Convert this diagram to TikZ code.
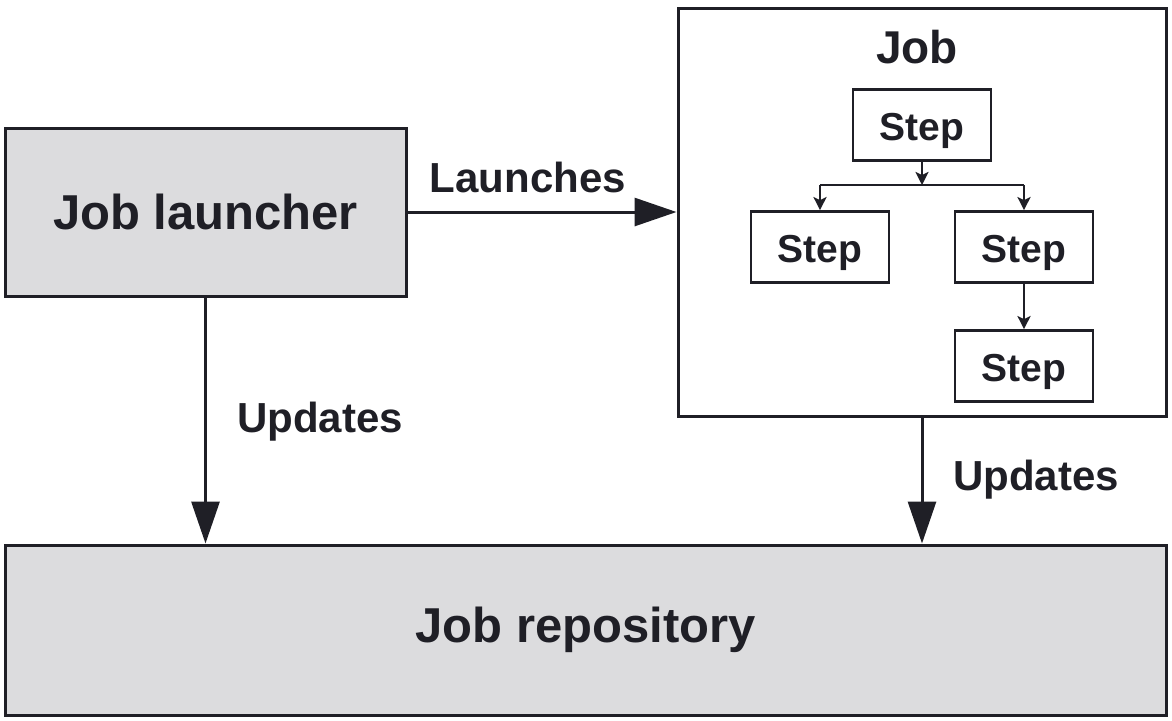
\documentclass[tikz,border=0pt]{standalone}
\usepackage{fontspec}
\setmainfont{Liberation Sans}
\usetikzlibrary{arrows.meta}
\definecolor{boxgray}{HTML}{DCDCDE}
\definecolor{ink}{HTML}{1F1F26}
\begin{document}
\begin{tikzpicture}[x=0.5pt,y=-0.5pt,
  bigbox/.style={draw=ink,line width=1.5pt,fill=boxgray,inner sep=0pt,text=ink,font=\bfseries\fontsize{24.5}{28}\selectfont},
  jobbox/.style={draw=ink,line width=1.5pt,fill=white,inner sep=0pt},
  stepbox/.style={draw=ink,line width=1.4pt,fill=white,inner sep=0pt,minimum width=69pt,minimum height=35.5pt,text height=15pt,text depth=-6pt,text=ink,font=\bfseries\fontsize{19.5}{22}\selectfont},
  lbl/.style={text=ink,font=\bfseries\fontsize{21}{24}\selectfont,inner sep=0pt},
  bigarrow/.style={draw=ink,line width=1.5pt,-{Triangle[length=21pt,width=14pt]}},
  smallarrow/.style={draw=ink,line width=1.3pt,-{Stealth[length=6.5pt,width=6.5pt,inset=1.5pt]}},
  plainline/.style={draw=ink,line width=1.3pt}
]
\useasboundingbox (0,0) rectangle (1172,720);
\fill[white] (0,0) rectangle (1172,720);

\node[bigbox,minimum width=200.5pt,minimum height=84pt] (jl) at (205.5,212) {Job launcher};
\node[jobbox,minimum width=244pt,minimum height=204pt] (job) at (922,212) {};
\node[lbl,font=\bfseries\fontsize{23}{26}\selectfont] (jobt) at (917,47) {Job};
\node[bigbox,minimum width=580.5pt,minimum height=85pt] (repo) at (585.5,630) {Job repository};

\node[stepbox] (s1) at (922,125) {Step};
\node[stepbox] (s2) at (820,247) {Step};
\node[stepbox] (s3) at (1024,247) {Step};
\node[stepbox] (s4) at (1024,366) {Step};

\coordinate (junc) at (922,185);
\coordinate (jl2) at (820,185);
\coordinate (jr2) at (1024,185);

\draw[smallarrow] (s1.south) -- (junc);
\draw[plainline] (jl2) -- (jr2);
\draw[smallarrow] (jl2) -- (s2.north);
\draw[smallarrow] (jr2) -- (s3.north);
\draw[smallarrow] (s3.south) -- (s4.north);

\draw[bigarrow] (jl.east) -- (job.west);
\node[lbl] (launches) at (528,177) {Launches};

\draw[bigarrow] (jl.south) -- (jl.south |- repo.north);
\node[lbl] (upd1) at (320,422) {Updates};

\draw[bigarrow] (job.south) -- (job.south |- repo.north);
\node[lbl] (upd2) at (1036,480) {Updates};
\end{tikzpicture}
\end{document}
